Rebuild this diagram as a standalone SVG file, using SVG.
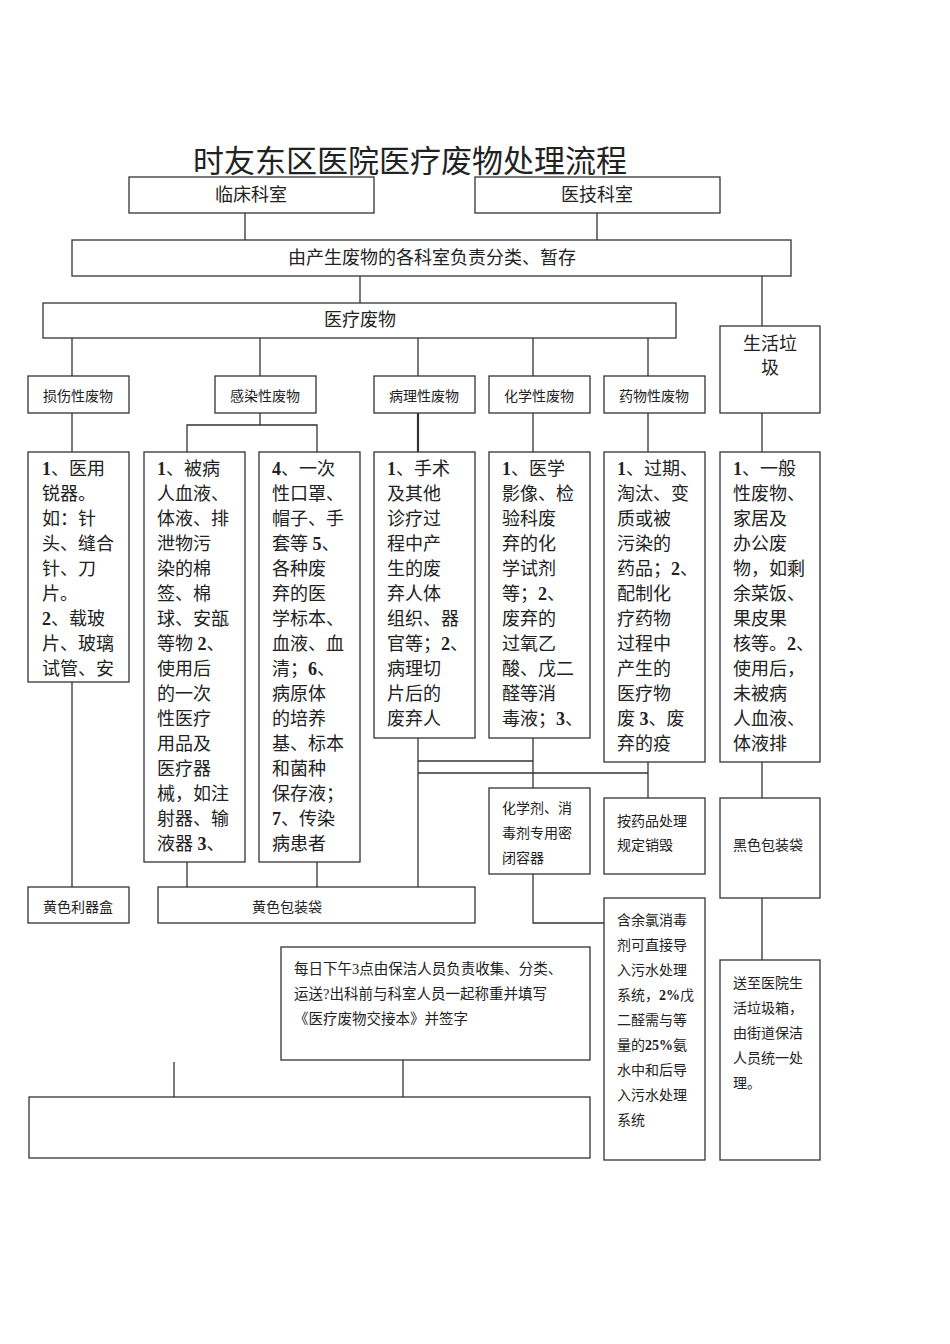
<svg xmlns="http://www.w3.org/2000/svg" width="950" height="1344" viewBox="0 0 950 1344">
<style>
rect{fill:#fff;stroke:#333;stroke-width:1.3}
line,polyline{stroke:#333;stroke-width:1.3;fill:none}
text{font-family:"Liberation Serif","Noto Sans CJK SC",serif;fill:#222}
.h{font-size:18px}
.c{font-size:14px}
.b{font-size:18px}
.s{font-size:14px}
tspan.n{font-weight:bold}
</style>
<rect x="0" y="0" width="950" height="1344" style="fill:#fff;stroke:none"/>
<text x="193" y="172" style="font-size:31px">时友东区医院医疗废物处理流程</text>
<g id="connectors">
<line x1="245" y1="213" x2="245" y2="240"/>
<line x1="597" y1="213" x2="597" y2="240"/>
<line x1="360" y1="276" x2="360" y2="303"/>
<line x1="762" y1="276" x2="762" y2="326"/>
<line x1="72" y1="338" x2="72" y2="376"/>
<line x1="260" y1="338" x2="260" y2="376"/>
<line x1="418" y1="338" x2="418" y2="376"/>
<line x1="533" y1="338" x2="533" y2="376"/>
<line x1="648" y1="338" x2="648" y2="376"/>
<line x1="72" y1="413" x2="72" y2="452"/>
<line x1="260" y1="413" x2="260" y2="425"/>
<polyline points="187,452 187,425 317,425 317,452"/>
<line x1="418" y1="413" x2="418" y2="452" style="stroke-width:2.2"/>
<line x1="533" y1="413" x2="533" y2="452"/>
<line x1="648" y1="413" x2="648" y2="452"/>
<line x1="762" y1="413" x2="762" y2="452"/>
<line x1="72" y1="682" x2="72" y2="887"/>
<line x1="187" y1="862" x2="187" y2="887"/>
<line x1="317" y1="862" x2="317" y2="887"/>
<line x1="418" y1="738" x2="418" y2="887"/>
<line x1="418" y1="761" x2="533" y2="761"/>
<line x1="418" y1="773" x2="648" y2="773"/>
<line x1="533" y1="738" x2="533" y2="788"/>
<line x1="648" y1="762" x2="648" y2="798"/>
<polyline points="533,874 533,923 604,923"/>
<line x1="762" y1="762" x2="762" y2="798"/>
<line x1="762" y1="898" x2="762" y2="960"/>
<line x1="174" y1="1062" x2="174" y2="1097"/>
<line x1="403" y1="1060" x2="403" y2="1097"/>
</g>
<g id="n-linchuang"><rect x="129" y="177" width="245" height="36"/><text class="h" x="251" y="201" text-anchor="middle">临床科室</text></g>
<g id="n-yiji"><rect x="475" y="177" width="245" height="36"/><text class="h" x="597" y="201" text-anchor="middle">医技科室</text></g>
<g id="n-fenlei"><rect x="72" y="240" width="719" height="36"/><text class="h" x="432" y="264" text-anchor="middle">由产生废物的各科室负责分类、暂存</text></g>
<g id="n-yiliao"><rect x="43" y="303" width="633" height="35"/><text class="h" x="360" y="326" text-anchor="middle">医疗废物</text></g>
<g id="n-shenghuo"><rect x="720" y="326" width="100" height="87"/><text class="h" x="770" y="350" text-anchor="middle">生活垃</text><text class="h" x="770" y="374" text-anchor="middle">圾</text></g>
<g id="n-sunshang"><rect x="28" y="376" width="101" height="37"/><text class="c" x="78" y="401" text-anchor="middle">损伤性废物</text></g>
<g id="n-ganran"><rect x="215" y="376" width="101" height="37"/><text class="c" x="265" y="401" text-anchor="middle">感染性废物</text></g>
<g id="n-bingli"><rect x="374" y="376" width="101" height="37"/><text class="c" x="424" y="401" text-anchor="middle">病理性废物</text></g>
<g id="n-huaxue"><rect x="489" y="376" width="101" height="37"/><text class="c" x="539" y="401" text-anchor="middle">化学性废物</text></g>
<g id="n-yaowu"><rect x="604" y="376" width="101" height="37"/><text class="c" x="654" y="401" text-anchor="middle">药物性废物</text></g>
<g id="n-d1"><rect x="28" y="452" width="101" height="230"/>
<text class="b" x="42" y="475"><tspan class="n">1</tspan>、医用</text><text class="b" x="42" y="500">锐器。</text><text class="b" x="42" y="525">如：针</text><text class="b" x="42" y="550">头、缝合</text><text class="b" x="42" y="575">针、刀</text><text class="b" x="42" y="600">片。</text><text class="b" x="42" y="625"><tspan class="n">2</tspan>、载玻</text><text class="b" x="42" y="650">片、玻璃</text><text class="b" x="42" y="675">试管、安</text></g>
<g id="n-d2"><rect x="144" y="452" width="101" height="410"/>
<text class="b" x="157" y="475"><tspan class="n">1</tspan>、被病</text><text class="b" x="157" y="500">人血液、</text><text class="b" x="157" y="525">体液、排</text><text class="b" x="157" y="550">泄物污</text><text class="b" x="157" y="575">染的棉</text><text class="b" x="157" y="600">签、棉</text><text class="b" x="157" y="625">球、安瓿</text><text class="b" x="157" y="650">等物 <tspan class="n">2</tspan>、</text><text class="b" x="157" y="675">使用后</text><text class="b" x="157" y="700">的一次</text><text class="b" x="157" y="725">性医疗</text><text class="b" x="157" y="750">用品及</text><text class="b" x="157" y="775">医疗器</text><text class="b" x="157" y="800">械，如注</text><text class="b" x="157" y="825">射器、输</text><text class="b" x="157" y="850">液器 <tspan class="n">3</tspan>、</text></g>
<g id="n-d3"><rect x="259" y="452" width="101" height="410"/>
<text class="b" x="272" y="475"><tspan class="n">4</tspan>、一次</text><text class="b" x="272" y="500">性口罩、</text><text class="b" x="272" y="525">帽子、手</text><text class="b" x="272" y="550">套等 <tspan class="n">5</tspan>、</text><text class="b" x="272" y="575">各种废</text><text class="b" x="272" y="600">弃的医</text><text class="b" x="272" y="625">学标本、</text><text class="b" x="272" y="650">血液、血</text><text class="b" x="272" y="675">清；<tspan class="n">6</tspan>、</text><text class="b" x="272" y="700">病原体</text><text class="b" x="272" y="725">的培养</text><text class="b" x="272" y="750">基、标本</text><text class="b" x="272" y="775">和菌种</text><text class="b" x="272" y="800">保存液；</text><text class="b" x="272" y="825"><tspan class="n">7</tspan>、传染</text><text class="b" x="272" y="850">病患者</text></g>
<g id="n-d4"><rect x="374" y="452" width="101" height="286"/>
<text class="b" x="387" y="475"><tspan class="n">1</tspan>、手术</text><text class="b" x="387" y="500">及其他</text><text class="b" x="387" y="525">诊疗过</text><text class="b" x="387" y="550">程中产</text><text class="b" x="387" y="575">生的废</text><text class="b" x="387" y="600">弃人体</text><text class="b" x="387" y="625">组织、器</text><text class="b" x="387" y="650">官等；<tspan class="n">2</tspan>、</text><text class="b" x="387" y="675">病理切</text><text class="b" x="387" y="700">片后的</text><text class="b" x="387" y="725">废弃人</text></g>
<g id="n-d5"><rect x="489" y="452" width="101" height="286"/>
<text class="b" x="502" y="475"><tspan class="n">1</tspan>、医学</text><text class="b" x="502" y="500">影像、检</text><text class="b" x="502" y="525">验科废</text><text class="b" x="502" y="550">弃的化</text><text class="b" x="502" y="575">学试剂</text><text class="b" x="502" y="600">等；<tspan class="n">2</tspan>、</text><text class="b" x="502" y="625">废弃的</text><text class="b" x="502" y="650">过氧乙</text><text class="b" x="502" y="675">酸、戊二</text><text class="b" x="502" y="700">醛等消</text><text class="b" x="502" y="725">毒液；<tspan class="n">3</tspan>、</text></g>
<g id="n-d6"><rect x="604" y="452" width="101" height="310"/>
<text class="b" x="617" y="475"><tspan class="n">1</tspan>、过期、</text><text class="b" x="617" y="500">淘汰、变</text><text class="b" x="617" y="525">质或被</text><text class="b" x="617" y="550">污染的</text><text class="b" x="617" y="575">药品；<tspan class="n">2</tspan>、</text><text class="b" x="617" y="600">配制化</text><text class="b" x="617" y="625">疗药物</text><text class="b" x="617" y="650">过程中</text><text class="b" x="617" y="675">产生的</text><text class="b" x="617" y="700">医疗物</text><text class="b" x="617" y="725">废 <tspan class="n">3</tspan>、废</text><text class="b" x="617" y="750">弃的疫</text></g>
<g id="n-d7"><rect x="720" y="452" width="100" height="310"/>
<text class="b" x="733" y="475"><tspan class="n">1</tspan>、一般</text><text class="b" x="733" y="500">性废物、</text><text class="b" x="733" y="525">家居及</text><text class="b" x="733" y="550">办公废</text><text class="b" x="733" y="575">物，如剩</text><text class="b" x="733" y="600">余菜饭、</text><text class="b" x="733" y="625">果皮果</text><text class="b" x="733" y="650">核等。<tspan class="n">2</tspan>、</text><text class="b" x="733" y="675">使用后，</text><text class="b" x="733" y="700">未被病</text><text class="b" x="733" y="725">人血液、</text><text class="b" x="733" y="750">体液排</text></g>
<g id="n-huaxueji"><rect x="489" y="788" width="101" height="86"/>
<text class="s" x="502" y="813">化学剂、消</text><text class="s" x="502" y="838">毒剂专用密</text><text class="s" x="502" y="863">闭容器</text></g>
<g id="n-anyaopin"><rect x="604" y="798" width="101" height="76"/>
<text class="s" x="617" y="826">按药品处理</text><text class="s" x="617" y="850">规定销毁</text></g>
<g id="n-heise"><rect x="720" y="798" width="100" height="100"/><text class="s" x="733" y="850">黑色包装袋</text></g>
<g id="n-liqihe"><rect x="28" y="887" width="101" height="36"/><text class="s" x="78" y="912" text-anchor="middle">黄色利器盒</text></g>
<g id="n-baozhuang"><rect x="158" y="887" width="317" height="36"/><text class="s" x="287" y="912" text-anchor="middle">黄色包装袋</text></g>
<g id="n-hanyulv"><rect x="604" y="898" width="101" height="262"/>
<text class="s" x="617" y="925">含余氯消毒</text><text class="s" x="617" y="950">剂可直接导</text><text class="s" x="617" y="975">入污水处理</text><text class="s" x="617" y="1000">系统，<tspan class="n">2%</tspan>戊</text><text class="s" x="617" y="1025">二醛需与等</text><text class="s" x="617" y="1050">量的<tspan class="n">25%</tspan>氨</text><text class="s" x="617" y="1075">水中和后导</text><text class="s" x="617" y="1100">入污水处理</text><text class="s" x="617" y="1125">系统</text></g>
<g id="n-songzhi"><rect x="720" y="960" width="100" height="200"/>
<text class="s" x="733" y="988">送至医院生</text><text class="s" x="733" y="1013">活垃圾箱，</text><text class="s" x="733" y="1038">由街道保洁</text><text class="s" x="733" y="1063">人员统一处</text><text class="s" x="733" y="1088">理。</text></g>
<g id="n-meiri"><rect x="281" y="947" width="309" height="113"/>
<text class="c" x="294" y="974" style="font-size:14.5px">每日下午3点由保洁人员负责收集、分类、</text><text class="c" x="294" y="999" style="font-size:14.5px">运送?出科前与科室人员一起称重并填写</text><text class="c" x="294" y="1024" style="font-size:14.5px">《医疗废物交接本》并签字</text></g>
<g id="n-bottom"><rect x="29" y="1097" width="561" height="61"/></g>
</svg>
